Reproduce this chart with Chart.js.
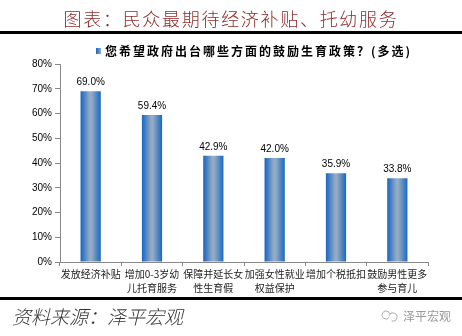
<!DOCTYPE html>
<html>
<head>
<meta charset="utf-8">
<script src="https://cdn.jsdelivr.net/npm/chart.js@4"></script>
<style>
  html, body { margin: 0; padding: 0; background: #fff; }
  #wrap { width: 462px; height: 336px; position: relative; }
</style>
</head>
<body>
<div id="wrap"><canvas id="bpChart"></canvas></div>
<script>
const titleText = "图表：民众最期待经济补贴、托幼服务";
const legendText = "您希望政府出台哪些方面的鼓励生育政策？(多选)";
const sourceText = "资料来源：泽平宏观";
const markText = "泽平宏观";

const categories = [
    ["发放经济补贴"],
    ["增加0-3岁幼", "儿托育服务"],
    ["保障并延长女", "性生育假"],
    ["加强女性就业", "权益保护"],
    ["增加个税抵扣"],
    ["鼓励男性更多", "参与育儿"]
];
const values = [69.0, 59.4, 42.9, 42.0, 35.9, 33.8];
const yTicks = [0, 10, 20, 30, 40, 50, 60, 70, 80];

const BAR_PCT = 0.33;

// each bar gets its own horizontal gradient
function barFill(c) {
    const chart = c.chart;
    const xs = chart.scales.x;
    if (!chart.chartArea || !xs || c.dataIndex === undefined) return "#5a88c2";
    const cx = xs.getPixelForValue(c.dataIndex);
    const w = (xs.width / categories.length) * BAR_PCT;
    const g = chart.ctx.createLinearGradient(cx - w / 2, 0, cx + w / 2, 0);
    g.addColorStop(0, "#1665c4");
    g.addColorStop(0.45, "#93abc4");
    g.addColorStop(0.55, "#93abc4");
    g.addColorStop(1, "#1a68c0");
    return g;
}

const decor = {
    id: "decor",
    afterDatasetsDraw(chart) {
        const ctx = chart.ctx;
        ctx.save();
        ctx.font = "10px 'Liberation Sans', Arial, sans-serif";
        ctx.fillStyle = "#000";
        ctx.textAlign = "center";
        ctx.textBaseline = "bottom";
        chart.getDatasetMeta(0).data.forEach((bar, i) => {
            ctx.fillText(values[i].toFixed(1) + "%", bar.x, bar.y - 4);
        });
        ctx.restore();
    },
    afterDraw(chart) {
        const ctx = chart.ctx;
        const W = chart.width;
        ctx.save();

        // title
        ctx.fillStyle = "#8c2b2b";
        ctx.font = "300 18px 'Noto Sans CJK SC', sans-serif";
        ctx.letterSpacing = "1.7px";
        ctx.textAlign = "center";
        ctx.textBaseline = "middle";
        ctx.fillText(titleText, 231, 19);

        // rules
        ctx.fillStyle = "#000";
        ctx.fillRect(0, 31, W, 3);
        ctx.fillRect(0, 297, W, 3);

        // legend
        const lg = ctx.createLinearGradient(96, 0, 101, 0);
        lg.addColorStop(0, "#1665c4");
        lg.addColorStop(1, "#93abc4");
        ctx.fillStyle = lg;
        ctx.fillRect(96, 48, 5, 6);
        ctx.fillStyle = "#000";
        ctx.font = "bold 12px 'Noto Sans CJK SC', sans-serif";
        ctx.letterSpacing = "2px";
        ctx.textAlign = "left";
        ctx.fillText(legendText, 105, 51);

        // source
        ctx.fillStyle = "#333";
        ctx.font = "italic 300 19px 'Noto Sans CJK SC', sans-serif";
        ctx.letterSpacing = "0px";
        ctx.fillText(sourceText, 12, 317);

        // watermark
        ctx.strokeStyle = "#aaa";
        ctx.lineWidth = 1;
        ctx.beginPath();
        ctx.arc(386, 315, 4, 0.6, Math.PI * 1.9);
        ctx.stroke();
        ctx.beginPath();
        ctx.arc(393, 317, 4, Math.PI * 1.1, Math.PI * 2.6);
        ctx.stroke();
        ctx.fillStyle = "#999";
        ctx.font = "12px 'Noto Sans CJK SC', sans-serif";
        ctx.fillText(markText, 403, 316);
        ctx.restore();
    }
};

new Chart(document.getElementById("bpChart"), {
    type: "bar",
    data: {
        labels: categories,
        datasets: [{
            label: legendText,
            data: values,
            backgroundColor: barFill,
            borderWidth: 0,
            categoryPercentage: 1,
            barPercentage: BAR_PCT
        }]
    },
    options: {
        responsive: true,
        maintainAspectRatio: false,
        animation: false,
        devicePixelRatio: 1,
        layout: { padding: { top: 64, right: 34, bottom: 38, left: 0 } },
        plugins: {
            legend: { display: false },
            tooltip: { enabled: false }
        },
        scales: {
            x: {
                grid: { drawOnChartArea: false, tickLength: 4, color: "#888", offset: true },
                border: { color: "#888" },
                ticks: {
                    color: "#222",
                    padding: 1,
                    maxRotation: 0,
                    autoSkip: false,
                    font: { family: "'Noto Sans CJK SC', sans-serif", size: 10, lineHeight: 1.4 }
                },
                afterFit(scale) { scale.height = 36; }
            },
            y: {
                min: 0,
                max: 80,
                afterBuildTicks(scale) { scale.ticks = yTicks.map(v => ({ value: v })); },
                grid: { drawOnChartArea: false, tickLength: 5, color: "#888" },
                border: { color: "#888" },
                ticks: {
                    color: "#000",
                    padding: 3,
                    font: { family: "'Liberation Sans', Arial, sans-serif", size: 10 },
                    callback: v => v + "%"
                },
                afterFit(scale) { scale.width = 60; }
            }
        }
    },
    plugins: [decor]
});
</script>
</body>
</html>
